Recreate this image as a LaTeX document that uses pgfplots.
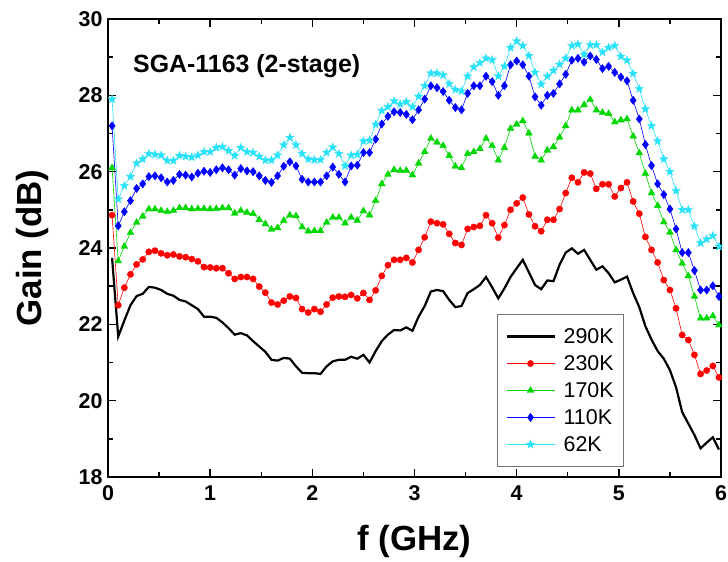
\documentclass[border=0pt]{standalone}
\usepackage{fontspec}
\setmainfont{Liberation Sans}
\usepackage{pgfplots}
\pgfplotsset{compat=1.18}
\usepackage{pgfplotstable}

\definecolor{cRed}{RGB}{255,0,0}
\definecolor{cGreen}{RGB}{0,215,0}
\definecolor{cBlue}{RGB}{0,0,255}
\definecolor{cCyan}{RGB}{40,225,250}

\pgfdeclareplotmark{fstar}{%
  \pgfpathmoveto{\pgfpointpolar{90}{\pgfplotmarksize}}%
  \pgfpathlineto{\pgfpointpolar{126}{0.42\pgfplotmarksize}}%
  \pgfpathlineto{\pgfpointpolar{162}{\pgfplotmarksize}}%
  \pgfpathlineto{\pgfpointpolar{198}{0.42\pgfplotmarksize}}%
  \pgfpathlineto{\pgfpointpolar{234}{\pgfplotmarksize}}%
  \pgfpathlineto{\pgfpointpolar{270}{0.42\pgfplotmarksize}}%
  \pgfpathlineto{\pgfpointpolar{306}{\pgfplotmarksize}}%
  \pgfpathlineto{\pgfpointpolar{342}{0.42\pgfplotmarksize}}%
  \pgfpathlineto{\pgfpointpolar{18}{\pgfplotmarksize}}%
  \pgfpathlineto{\pgfpointpolar{54}{0.42\pgfplotmarksize}}%
  \pgfpathclose
  \pgfusepathqfillstroke}

\pgfplotstableread{
f g290 g230 g170 g110 g62
0.04 23.74 24.86 26.10 27.20 27.90
0.10 21.68 22.50 23.66 24.58 25.28
0.16 22.10 22.96 24.04 24.95 25.63
0.22 22.50 23.31 24.40 25.24 25.87
0.28 22.74 23.57 24.67 25.56 26.22
0.34 22.80 23.70 24.83 25.68 26.33
0.40 22.98 23.90 25.02 25.87 26.47
0.46 22.96 23.93 25.02 25.89 26.45
0.52 22.90 23.86 24.98 25.84 26.43
0.58 22.80 23.81 24.95 25.73 26.29
0.64 22.75 23.83 24.98 25.77 26.29
0.70 22.64 23.78 25.05 25.93 26.42
0.76 22.60 23.76 25.05 25.91 26.40
0.82 22.50 23.71 25.02 25.86 26.38
0.88 22.40 23.65 25.03 25.96 26.43
0.94 22.20 23.50 25.03 26.01 26.52
1.00 22.20 23.49 25.02 25.98 26.52
1.06 22.17 23.47 25.03 26.05 26.63
1.12 22.05 23.47 25.05 26.10 26.65
1.18 21.90 23.34 25.05 26.05 26.55
1.24 21.73 23.19 24.91 25.91 26.42
1.30 21.77 23.24 24.98 26.08 26.63
1.36 21.71 23.24 24.93 26.02 26.52
1.42 21.56 23.19 24.90 26.00 26.50
1.48 21.42 22.99 24.74 25.89 26.40
1.54 21.28 22.83 24.63 25.77 26.30
1.60 21.07 22.57 24.49 25.72 26.30
1.66 21.05 22.52 24.53 25.89 26.43
1.72 21.12 22.62 24.72 26.14 26.70
1.78 21.10 22.73 24.86 26.26 26.89
1.84 20.90 22.69 24.84 26.15 26.70
1.90 20.73 22.40 24.55 25.80 26.47
1.96 20.72 22.31 24.44 25.73 26.33
2.02 20.72 22.40 24.45 25.73 26.31
2.08 20.70 22.33 24.45 25.73 26.31
2.14 20.90 22.52 24.67 25.89 26.50
2.20 21.03 22.70 24.80 26.12 26.64
2.26 21.07 22.73 24.80 25.93 26.47
2.32 21.07 22.72 24.65 25.73 26.15
2.38 21.15 22.77 24.80 26.15 26.43
2.44 21.10 22.68 24.72 26.17 26.45
2.50 21.20 22.82 24.97 26.50 26.80
2.56 21.00 22.64 24.86 26.50 26.82
2.62 21.30 22.89 25.24 26.85 27.24
2.68 21.56 23.27 25.68 27.25 27.60
2.74 21.73 23.55 25.93 27.45 27.70
2.80 21.85 23.69 26.05 27.57 27.85
2.86 21.84 23.69 26.03 27.55 27.77
2.92 21.92 23.74 26.03 27.50 27.83
2.98 21.83 23.62 25.91 27.36 27.70
3.04 22.20 23.95 26.22 27.62 27.97
3.10 22.48 24.28 26.52 27.90 28.25
3.16 22.86 24.69 26.87 28.25 28.58
3.22 22.90 24.65 26.77 28.20 28.58
3.28 22.87 24.62 26.68 28.10 28.53
3.34 22.64 24.37 26.42 27.87 28.30
3.40 22.45 24.13 26.14 27.68 28.15
3.46 22.48 24.08 26.10 27.62 28.11
3.52 22.82 24.50 26.47 28.05 28.50
3.58 22.92 24.55 26.52 28.25 28.74
3.64 23.03 24.58 26.60 28.25 28.85
3.70 23.24 24.86 26.87 28.50 28.97
3.76 22.97 24.65 26.68 28.36 28.93
3.82 22.68 24.27 26.30 28.00 28.50
3.88 22.94 24.60 26.63 28.25 28.76
3.94 23.24 25.00 27.13 28.80 29.25
4.00 23.47 25.17 27.24 28.90 29.42
4.06 23.69 25.32 27.33 28.80 29.30
4.12 23.36 24.88 27.01 28.50 29.04
4.18 23.03 24.57 26.40 27.96 28.60
4.24 22.92 24.44 26.30 27.74 28.29
4.30 23.15 24.74 26.56 28.00 28.50
4.36 23.13 24.74 26.65 28.05 28.65
4.42 23.56 25.02 26.90 28.30 28.81
4.48 23.88 25.44 27.20 28.55 28.97
4.54 23.99 25.84 27.61 28.92 29.30
4.60 23.85 25.72 27.61 28.97 29.34
4.66 23.95 25.98 27.75 28.87 29.07
4.72 23.69 25.95 27.89 29.03 29.32
4.78 23.43 25.55 27.61 28.94 29.32
4.84 23.52 25.67 27.55 28.70 29.13
4.90 23.34 25.67 27.52 28.76 29.25
4.96 23.10 25.35 27.30 28.60 29.30
5.02 23.17 25.57 27.35 28.48 29.02
5.08 23.25 25.72 27.38 28.38 28.92
5.14 22.82 25.22 26.93 27.87 28.57
5.20 22.45 24.90 26.49 27.38 28.17
5.26 21.95 24.29 25.95 26.71 27.64
5.32 21.60 23.95 25.44 26.16 27.20
5.38 21.30 23.62 25.11 25.68 26.80
5.44 21.10 23.16 24.68 25.40 26.33
5.50 20.80 22.90 24.41 25.02 26.00
5.56 20.35 22.42 23.95 24.50 25.50
5.62 19.70 21.72 23.60 23.88 25.00
5.68 19.40 21.59 23.27 23.88 25.00
5.74 19.10 21.20 22.73 23.41 24.57
5.80 18.75 20.70 22.16 22.90 24.13
5.86 18.90 20.79 22.16 22.90 24.23
5.92 19.04 20.91 22.22 23.01 24.32
5.98 18.72 20.61 21.98 22.73 24.04
}\gaindata

\begin{document}
\begin{tikzpicture}
\begin{axis}[name=ax,
  scale only axis, width=613bp, height=458bp,
  xmin=0, xmax=6, ymin=18, ymax=30,
  xtick={0,1,...,6}, ytick={18,20,...,30},
  minor x tick num=1, minor y tick num=1,
  tick align=inside, major tick length=8bp, minor tick length=5bp,
  axis line style={line width=1.6bp},
  every tick/.style={line width=1.4bp, black},
  /pgf/number format/assume math mode=true,
  tick label style={font=\bfseries\fontsize{21.5}{26}\selectfont},
  yticklabel style={xshift=-2bp},
  xticklabel style={yshift=-5bp},
  xlabel={f (GHz)}, ylabel={Gain (dB)},
  label style={font=\bfseries\fontsize{35}{40}\selectfont},
  xlabel style={at={(rel axis cs:0.5,-0.14)}, anchor=center},
  ylabel style={at={(rel axis cs:-0.124,0.5)}, anchor=center},
  legend cell align=left,
  legend image code/.code={\draw[mark repeat=2,mark phase=2,#1] plot coordinates {(0bp,0bp) (24bp,0bp) (48bp,0bp)};},
  legend style={at={(rel axis cs:0.6346,0.0218)}, anchor=south west,
    draw=black!55, line width=0.8bp, fill=white,
    inner xsep=8bp, inner ysep=12bp,
    font=\fontsize{21.5}{26}\selectfont,
    row sep=6.5bp, column sep=6bp,
    nodes={inner sep=2bp}},
]
\addplot[black, line width=2.2bp, no markers] table[x=f, y=g290] {\gaindata};
\addlegendentry{290K}
\addplot[cRed, line width=0.6bp, mark=*, mark size=3.2bp, mark options={solid, fill=cRed, draw=cRed, line width=0.3bp}] table[x=f, y=g230] {\gaindata};
\addlegendentry{230K}
\addplot[cGreen, line width=0.6bp, mark=triangle*, mark size=4bp, mark options={solid, fill=cGreen, draw=cGreen, line width=0.3bp}] table[x=f, y=g170] {\gaindata};
\addlegendentry{170K}
\addplot[cBlue, line width=0.6bp, mark=diamond*, mark size=4.2bp, mark options={solid, fill=cBlue, draw=cBlue, line width=0.3bp}] table[x=f, y=g110] {\gaindata};
\addlegendentry{110K}
\addplot[cCyan, line width=0.6bp, mark=fstar, mark size=4.4bp, mark options={solid, fill=cCyan, draw=cCyan, line width=0.3bp}] table[x=f, y=g62] {\gaindata};
\addlegendentry{62K}
\node[anchor=base west, inner sep=0pt, font=\bfseries\fontsize{25}{30}\selectfont] at (axis cs:0.245,28.6) {SGA-1163 (2-stage)};
\end{axis}
\pgfresetboundingbox
\path[use as bounding box] ([xshift=-108bp,yshift=-85bp]ax.south west) rectangle ([xshift=7bp,yshift=19bp]ax.north east);
\end{tikzpicture}
\end{document}
